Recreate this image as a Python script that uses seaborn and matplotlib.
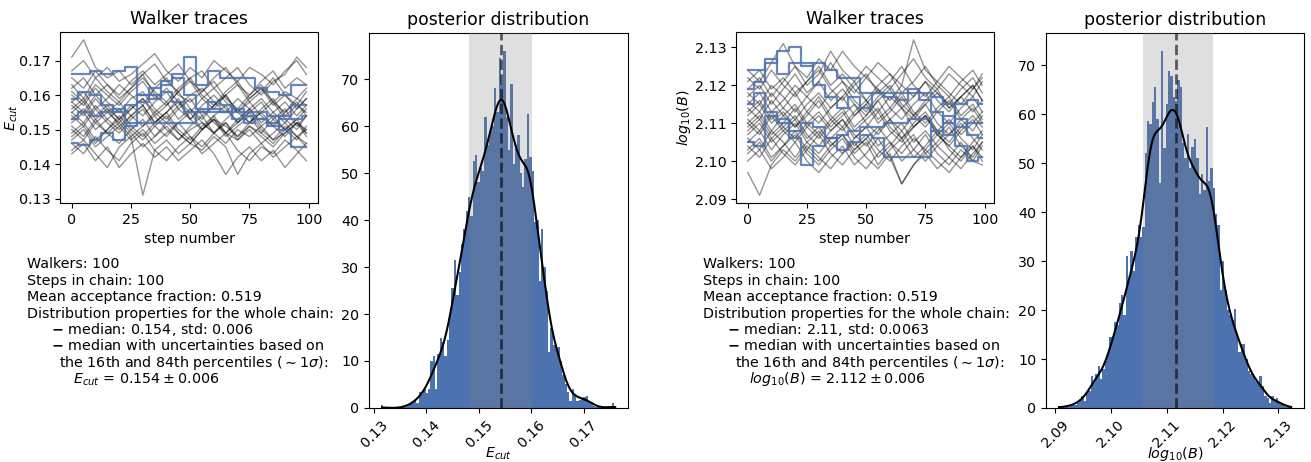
import numpy as np
import pandas as pd
import matplotlib
matplotlib.use("Agg")
import matplotlib.pyplot as plt
import seaborn as sns

trace_steps = [0, 5, 10, 15, 20, 25, 30, 35, 40, 45, 50, 55, 60, 65, 70, 75, 80, 85, 90, 95, 99]

# E_cut walkers (highlighted ones in blue)
ecut_blue = [
    [0.166, 0.166, 0.167, 0.166, 0.167, 0.168, 0.160, 0.162, 0.164, 0.166, 0.171, 0.163, 0.167, 0.165, 0.165, 0.165, 0.162, 0.161, 0.160, 0.163, 0.163],
    [0.159, 0.161, 0.160, 0.157, 0.155, 0.157, 0.160, 0.159, 0.163, 0.165, 0.160, 0.156, 0.158, 0.157, 0.153, 0.154, 0.153, 0.151, 0.154, 0.157, 0.157],
    [0.153, 0.155, 0.154, 0.155, 0.156, 0.152, 0.152, 0.152, 0.152, 0.152, 0.152, 0.155, 0.155, 0.155, 0.155, 0.155, 0.155, 0.154, 0.153, 0.153, 0.154],
    [0.146, 0.1455, 0.147, 0.149, 0.147, 0.151, 0.158, 0.160, 0.161, 0.158, 0.155, 0.155, 0.156, 0.155, 0.156, 0.152, 0.153, 0.152, 0.150, 0.145, 0.145],
]
ecut_gray = [
    [0.158, 0.161, 0.156, 0.159, 0.163, 0.160, 0.157, 0.162, 0.165, 0.160, 0.158, 0.161, 0.164, 0.159, 0.156, 0.160, 0.163, 0.158, 0.161, 0.159, 0.157],
    [0.150, 0.147, 0.152, 0.149, 0.146, 0.150, 0.153, 0.148, 0.151, 0.147, 0.150, 0.152, 0.149, 0.146, 0.150, 0.148, 0.151, 0.147, 0.149, 0.152, 0.150],
    [0.155, 0.158, 0.153, 0.156, 0.151, 0.154, 0.157, 0.152, 0.155, 0.159, 0.153, 0.150, 0.154, 0.157, 0.152, 0.155, 0.158, 0.153, 0.156, 0.151, 0.154],
    [0.171, 0.176, 0.168, 0.165, 0.167, 0.163, 0.166, 0.169, 0.164, 0.161, 0.165, 0.167, 0.162, 0.165, 0.168, 0.163, 0.160, 0.164, 0.166, 0.171, 0.168],
    [0.144, 0.147, 0.143, 0.139, 0.145, 0.148, 0.131, 0.144, 0.147, 0.143, 0.146, 0.144, 0.148, 0.145, 0.137, 0.143, 0.146, 0.142, 0.145, 0.148, 0.146],
    [0.160, 0.157, 0.162, 0.158, 0.155, 0.159, 0.161, 0.156, 0.153, 0.157, 0.160, 0.162, 0.158, 0.155, 0.159, 0.156, 0.152, 0.155, 0.158, 0.154, 0.157],
    [0.148, 0.151, 0.146, 0.150, 0.153, 0.149, 0.145, 0.148, 0.152, 0.149, 0.146, 0.150, 0.153, 0.149, 0.147, 0.151, 0.148, 0.145, 0.149, 0.152, 0.148],
    [0.163, 0.159, 0.165, 0.161, 0.158, 0.162, 0.166, 0.160, 0.157, 0.161, 0.164, 0.159, 0.156, 0.160, 0.163, 0.158, 0.161, 0.165, 0.160, 0.157, 0.161],
    [0.152, 0.155, 0.150, 0.153, 0.156, 0.151, 0.148, 0.152, 0.155, 0.150, 0.147, 0.151, 0.154, 0.149, 0.152, 0.155, 0.150, 0.147, 0.151, 0.148, 0.150],
    [0.157, 0.154, 0.159, 0.155, 0.152, 0.156, 0.159, 0.154, 0.157, 0.161, 0.156, 0.153, 0.157, 0.160, 0.155, 0.152, 0.156, 0.159, 0.154, 0.157, 0.155],
    [0.146, 0.143, 0.148, 0.144, 0.141, 0.146, 0.149, 0.144, 0.141, 0.145, 0.148, 0.143, 0.146, 0.149, 0.144, 0.141, 0.145, 0.143, 0.147, 0.144, 0.141],
    [0.167, 0.170, 0.165, 0.168, 0.164, 0.166, 0.169, 0.172, 0.167, 0.164, 0.168, 0.165, 0.170, 0.167, 0.164, 0.168, 0.166, 0.163, 0.167, 0.170, 0.166],
    [0.154, 0.151, 0.156, 0.152, 0.149, 0.153, 0.156, 0.151, 0.148, 0.152, 0.155, 0.150, 0.153, 0.151, 0.148, 0.152, 0.155, 0.151, 0.148, 0.152, 0.149],
    [0.149, 0.152, 0.147, 0.150, 0.154, 0.150, 0.147, 0.151, 0.154, 0.149, 0.146, 0.150, 0.153, 0.148, 0.151, 0.154, 0.149, 0.146, 0.150, 0.153, 0.149],
    [0.161, 0.158, 0.163, 0.160, 0.157, 0.161, 0.164, 0.159, 0.162, 0.158, 0.155, 0.159, 0.162, 0.158, 0.155, 0.159, 0.162, 0.157, 0.160, 0.156, 0.159],
    [0.143, 0.146, 0.141, 0.145, 0.139, 0.143, 0.146, 0.142, 0.145, 0.141, 0.144, 0.147, 0.143, 0.137, 0.142, 0.145, 0.141, 0.144, 0.139, 0.143, 0.146],
    [0.156, 0.159, 0.154, 0.157, 0.153, 0.156, 0.159, 0.155, 0.152, 0.156, 0.159, 0.154, 0.157, 0.160, 0.155, 0.158, 0.154, 0.151, 0.155, 0.158, 0.154],
    [0.151, 0.148, 0.153, 0.149, 0.152, 0.148, 0.151, 0.154, 0.150, 0.147, 0.151, 0.154, 0.149, 0.152, 0.148, 0.151, 0.149, 0.153, 0.150, 0.147, 0.151],
    [0.165, 0.162, 0.167, 0.163, 0.160, 0.164, 0.167, 0.163, 0.166, 0.169, 0.164, 0.161, 0.165, 0.168, 0.163, 0.160, 0.164, 0.167, 0.162, 0.165, 0.163],
    [0.153, 0.156, 0.152, 0.155, 0.158, 0.154, 0.151, 0.155, 0.158, 0.153, 0.156, 0.152, 0.149, 0.153, 0.156, 0.152, 0.155, 0.158, 0.153, 0.150, 0.154],
    [0.158, 0.155, 0.160, 0.156, 0.153, 0.157, 0.154, 0.158, 0.161, 0.156, 0.153, 0.157, 0.160, 0.156, 0.152, 0.156, 0.159, 0.155, 0.152, 0.156, 0.159],
    [0.147, 0.150, 0.145, 0.148, 0.151, 0.147, 0.150, 0.146, 0.149, 0.152, 0.148, 0.145, 0.149, 0.152, 0.147, 0.150, 0.146, 0.149, 0.152, 0.148, 0.145],
    [0.162, 0.165, 0.160, 0.163, 0.159, 0.162, 0.165, 0.161, 0.158, 0.162, 0.165, 0.160, 0.157, 0.161, 0.164, 0.159, 0.162, 0.158, 0.155, 0.159, 0.162],
    [0.155, 0.152, 0.157, 0.153, 0.150, 0.154, 0.157, 0.152, 0.155, 0.158, 0.153, 0.156, 0.152, 0.149, 0.153, 0.156, 0.151, 0.154, 0.150, 0.153, 0.156],
]

# log10(B) walkers
logb_blue = [
    [2.124, 2.124, 2.126, 2.129, 2.130, 2.125, 2.126, 2.124, 2.122, 2.122, 2.118, 2.118, 2.118, 2.118, 2.118, 2.118, 2.117, 2.115, 2.111, 2.107, 2.106],
    [2.119, 2.121, 2.127, 2.123, 2.126, 2.126, 2.120, 2.117, 2.114, 2.117, 2.114, 2.118, 2.117, 2.116, 2.119, 2.116, 2.113, 2.110, 2.115, 2.116, 2.115],
    [2.115, 2.118, 2.113, 2.111, 2.108, 2.110, 2.109, 2.106, 2.107, 2.108, 2.109, 2.109, 2.110, 2.110, 2.111, 2.111, 2.108, 2.107, 2.109, 2.110, 2.110],
    [2.105, 2.104, 2.112, 2.110, 2.106, 2.099, 2.104, 2.106, 2.103, 2.105, 2.107, 2.106, 2.101, 2.101, 2.101, 2.101, 2.108, 2.112, 2.104, 2.100, 2.101],
]
logb_gray = [
    [2.115, 2.118, 2.113, 2.116, 2.120, 2.117, 2.114, 2.118, 2.121, 2.116, 2.113, 2.117, 2.120, 2.115, 2.112, 2.116, 2.119, 2.114, 2.117, 2.120, 2.116],
    [2.106, 2.103, 2.108, 2.105, 2.101, 2.105, 2.108, 2.104, 2.107, 2.103, 2.106, 2.109, 2.105, 2.102, 2.106, 2.103, 2.107, 2.104, 2.101, 2.105, 2.108],
    [2.112, 2.115, 2.110, 2.113, 2.109, 2.112, 2.116, 2.111, 2.108, 2.112, 2.115, 2.110, 2.113, 2.117, 2.112, 2.109, 2.113, 2.116, 2.111, 2.108, 2.112],
    [2.097, 2.091, 2.099, 2.103, 2.100, 2.104, 2.101, 2.098, 2.102, 2.105, 2.101, 2.098, 2.102, 2.094, 2.099, 2.103, 2.100, 2.097, 2.101, 2.104, 2.100],
    [2.124, 2.121, 2.126, 2.131, 2.125, 2.122, 2.127, 2.124, 2.129, 2.125, 2.122, 2.126, 2.123, 2.120, 2.132, 2.124, 2.121, 2.125, 2.122, 2.119, 2.123],
    [2.109, 2.112, 2.107, 2.110, 2.114, 2.109, 2.106, 2.110, 2.113, 2.108, 2.111, 2.114, 2.109, 2.106, 2.110, 2.113, 2.108, 2.111, 2.107, 2.110, 2.113],
    [2.118, 2.115, 2.120, 2.117, 2.113, 2.117, 2.121, 2.116, 2.119, 2.115, 2.112, 2.116, 2.119, 2.114, 2.117, 2.121, 2.116, 2.113, 2.117, 2.120, 2.116],
    [2.103, 2.106, 2.101, 2.104, 2.108, 2.103, 2.100, 2.104, 2.107, 2.102, 2.105, 2.099, 2.103, 2.106, 2.101, 2.104, 2.108, 2.103, 2.100, 2.104, 2.101],
    [2.111, 2.108, 2.113, 2.109, 2.106, 2.110, 2.113, 2.109, 2.112, 2.115, 2.110, 2.107, 2.111, 2.114, 2.109, 2.112, 2.108, 2.105, 2.109, 2.112, 2.109],
    [2.121, 2.124, 2.119, 2.122, 2.118, 2.121, 2.125, 2.120, 2.123, 2.119, 2.116, 2.120, 2.123, 2.118, 2.121, 2.125, 2.120, 2.117, 2.121, 2.124, 2.120],
    [2.107, 2.110, 2.105, 2.108, 2.111, 2.106, 2.109, 2.105, 2.102, 2.106, 2.109, 2.104, 2.107, 2.110, 2.105, 2.108, 2.104, 2.107, 2.110, 2.106, 2.103],
    [2.114, 2.111, 2.116, 2.112, 2.109, 2.113, 2.117, 2.112, 2.109, 2.113, 2.116, 2.111, 2.114, 2.118, 2.113, 2.110, 2.114, 2.117, 2.112, 2.115, 2.111],
    [2.100, 2.103, 2.098, 2.101, 2.105, 2.100, 2.097, 2.101, 2.104, 2.099, 2.102, 2.106, 2.101, 2.094, 2.099, 2.102, 2.098, 2.101, 2.105, 2.100, 2.099],
    [2.117, 2.120, 2.115, 2.119, 2.123, 2.118, 2.121, 2.126, 2.121, 2.118, 2.122, 2.119, 2.116, 2.120, 2.117, 2.121, 2.118, 2.115, 2.119, 2.122, 2.118],
    [2.110, 2.107, 2.112, 2.108, 2.105, 2.109, 2.112, 2.108, 2.111, 2.107, 2.104, 2.108, 2.111, 2.106, 2.109, 2.112, 2.107, 2.104, 2.108, 2.111, 2.107],
    [2.119, 2.122, 2.117, 2.121, 2.125, 2.120, 2.123, 2.129, 2.124, 2.121, 2.125, 2.122, 2.119, 2.123, 2.127, 2.122, 2.119, 2.123, 2.120, 2.117, 2.121],
    [2.104, 2.101, 2.106, 2.102, 2.099, 2.103, 2.107, 2.102, 2.099, 2.103, 2.106, 2.101, 2.104, 2.108, 2.103, 2.100, 2.104, 2.101, 2.098, 2.102, 2.105],
    [2.113, 2.116, 2.111, 2.114, 2.118, 2.113, 2.110, 2.114, 2.117, 2.112, 2.115, 2.119, 2.114, 2.111, 2.115, 2.118, 2.113, 2.110, 2.114, 2.117, 2.113],
    [2.108, 2.111, 2.106, 2.109, 2.112, 2.107, 2.104, 2.108, 2.111, 2.106, 2.109, 2.113, 2.108, 2.105, 2.109, 2.112, 2.107, 2.110, 2.106, 2.103, 2.107],
    [2.116, 2.113, 2.118, 2.114, 2.111, 2.115, 2.118, 2.114, 2.117, 2.121, 2.116, 2.113, 2.117, 2.114, 2.111, 2.115, 2.118, 2.114, 2.117, 2.113, 2.116],
    [2.102, 2.105, 2.100, 2.104, 2.107, 2.102, 2.099, 2.103, 2.106, 2.101, 2.098, 2.102, 2.105, 2.100, 2.103, 2.107, 2.102, 2.099, 2.103, 2.100, 2.104],
    [2.122, 2.119, 2.124, 2.120, 2.117, 2.121, 2.124, 2.119, 2.116, 2.120, 2.123, 2.118, 2.121, 2.125, 2.120, 2.117, 2.121, 2.118, 2.115, 2.119, 2.122],
    [2.110, 2.113, 2.108, 2.112, 2.115, 2.110, 2.107, 2.111, 2.114, 2.109, 2.112, 2.116, 2.111, 2.108, 2.112, 2.115, 2.110, 2.107, 2.111, 2.114, 2.110],
    [2.105, 2.108, 2.103, 2.107, 2.110, 2.105, 2.102, 2.106, 2.109, 2.104, 2.107, 2.103, 2.100, 2.104, 2.107, 2.102, 2.105, 2.109, 2.104, 2.101, 2.105],
]

# posterior histograms: 100 bins over the chain range, density per bin
ecut_range = (0.1313, 0.1762)
ecut_density = [
    0.6, 0.0, 0.0, 0.0, 0.0, 0.0, 0.0, 0.0, 0.0, 0.2, 0.3, 0.5, 0.8, 1.0, 1.5, 1.0, 3.5, 3.0, 4.0, 3.2,
    4.0, 10.0, 11.0, 4.0, 11.5, 15.0, 14.0, 11.0, 14.5, 20.0, 25.5, 31.5, 24.0, 29.0, 35.0, 38.0, 42.0, 45.0, 40.8, 52.5,
    53.8, 48.0, 51.0, 50.5, 62.0, 56.0, 59.0, 60.0, 68.0, 63.0, 74.5, 69.0, 76.0, 62.0, 55.0, 69.0, 52.0, 56.0, 58.0, 50.0,
    47.0, 53.0, 62.5, 53.5, 50.5, 39.5, 40.0, 27.0, 38.0, 30.0, 25.0, 12.0, 17.0, 13.5, 13.5, 13.0, 10.0, 7.0, 5.0, 3.5,
    1.5, 4.0, 3.0, 1.5, 1.8, 2.0, 2.3, 2.6, 1.2, 0.8, 0.5, 0.3, 0.2, 0.0, 0.0, 0.0, 0.2, 0.0, 1.0, 0.2,
]
ecut_percentiles = (0.1482, 0.1542, 0.1601)  # 16th, 50th, 84th

logb_range = (2.0905, 2.1325)
logb_density = [
    0.5, 0.0, 0.2, 0.3, 0.3, 0.5, 0.8, 0.7, 1.0, 1.5, 2.4, 1.5, 3.0, 3.5, 6.6, 5.0, 7.0, 8.5, 6.0, 8.0,
    9.5, 11.0, 14.5, 14.0, 17.5, 17.0, 21.5, 23.0, 19.0, 31.0, 26.0, 32.0, 28.0, 35.0, 37.3, 35.0, 37.0, 52.0, 58.5, 58.0,
    62.4, 65.6, 59.0, 46.0, 72.9, 53.0, 62.0, 68.8, 67.8, 63.4, 62.7, 67.0, 65.5, 54.0, 51.0, 56.0, 49.0, 53.2, 55.0, 51.0,
    43.7, 47.8, 44.4, 57.3, 46.4, 49.0, 45.0, 39.6, 37.3, 24.0, 30.0, 24.0, 20.0, 19.0, 18.0, 20.2, 15.0, 11.5, 13.0, 13.0,
    10.0, 7.5, 7.0, 6.5, 5.5, 5.0, 6.5, 4.5, 2.5, 2.0, 1.0, 2.5, 1.5, 2.0, 1.0, 0.8, 0.5, 0.3, 0.2, 0.2,
]
logb_percentiles = (2.1057, 2.1117, 2.1183)

# summary text, one entry per line: (indent in px, text)
info_ecut = [
    (0, "Walkers: 100"),
    (0, "Steps in chain: 100"),
    (0, "Mean acceptance fraction: 0.519"),
    (0, "Distribution properties for the whole chain:"),
    (24, "$\\mathbf{-}$ median: 0.154, std: 0.006"),
    (24, "$\\mathbf{-}$ median with uncertainties based on"),
    (32, "the 16th and 84th percentiles ($\\sim1\\sigma$):"),
    (46, "$E_{cut}$ = $0.154 \\pm 0.006$"),
]
info_logb = [
    (0, "Walkers: 100"),
    (0, "Steps in chain: 100"),
    (0, "Mean acceptance fraction: 0.519"),
    (0, "Distribution properties for the whole chain:"),
    (24, "$\\mathbf{-}$ median: 2.11, std: 0.0063"),
    (24, "$\\mathbf{-}$ median with uncertainties based on"),
    (32, "the 16th and 84th percentiles ($\\sim1\\sigma$):"),
    (46, "$log_{10}(B)$ = $2.112 \\pm 0.006$"),
]

plt.rcParams["font.size"] = 10.3
blue = sns.color_palette("deep")[0]
W, H = 1311, 462


def walkers_frame(walkers):
    rows = []
    for w, vals in enumerate(walkers):
        for s, v in zip(trace_steps, vals):
            rows.append((w, s, v))
    return pd.DataFrame(rows, columns=["walker", "step", "value"])


def draw_traces(ax, gray, highlighted, label, label_x):
    sns.lineplot(data=walkers_frame(gray), x="step", y="value", units="walker",
                 estimator=None, color="k", alpha=0.42, lw=1, ax=ax, legend=False)
    sns.lineplot(data=walkers_frame(highlighted), x="step", y="value", units="walker",
                 estimator=None, color=blue, alpha=0.85, lw=1.6, ax=ax, legend=False,
                 drawstyle="steps-mid")
    ax.set_title("Walker traces", fontsize=12.4)
    ax.set_xlabel("step number")
    ax.set_ylabel(label)
    ax.yaxis.set_label_coords(label_x, 0.5)
    ax.set_xticks([0, 25, 50, 75, 100])


def draw_posterior(ax, rng, dens, pct, label, bw):
    nbins = len(dens)
    width = (rng[1] - rng[0]) / nbins
    df = pd.DataFrame({"x": [rng[0] + (i + 0.5) * width for i in range(nbins)],
                       "w": dens})
    sns.histplot(data=df, x="x", weights="w", bins=nbins, binrange=rng,
                 color=blue, alpha=1, lw=0, ax=ax)
    ax.axvspan(pct[0], pct[2], color="gray", alpha=0.25, lw=0, zorder=3)
    sns.kdeplot(data=df, x="x", weights="w", bw_adjust=bw, cut=0, color="k",
                lw=1.5, ax=ax, zorder=5)
    ax.axvline(pct[1], color="k", ls="--", lw=2, alpha=0.6, zorder=4)
    ax.set_title("posterior distribution", fontsize=12.4)
    ax.set_ylabel("")
    ax.set_xlabel(label)
    ax.xaxis.set_label_coords(0.5, -0.10)
    ax.tick_params(axis="x", rotation=45)


def draw_info(fig, lines, x0):
    for i, (indent, txt) in enumerate(lines):
        baseline = 268.5 + 16.4 * i
        fig.text((x0 + indent) / W, 1 - baseline / H, txt,
                 ha="left", va="baseline", fontsize=10.3)


fig = plt.figure(figsize=(13.11, 4.62), dpi=100)
ax1 = fig.add_axes([0.0458, 0.5606, 0.1968, 0.370])
ax2 = fig.add_axes([0.2815, 0.1169, 0.1976, 0.8117])
ax3 = fig.add_axes([0.5614, 0.5606, 0.1968, 0.370])
ax4 = fig.add_axes([0.7979, 0.1169, 0.1968, 0.8117])

draw_traces(ax1, ecut_gray, ecut_blue, "$E_{cut}$", -0.155)
draw_posterior(ax2, ecut_range, ecut_density, ecut_percentiles, "$E_{cut}$", 0.4)
draw_traces(ax3, logb_gray, logb_blue, "$log_{10}(B)$", -0.167)
draw_posterior(ax4, logb_range, logb_density, logb_percentiles, "$log_{10}(B)$", 0.35)

draw_info(fig, info_ecut, 27)
draw_info(fig, info_logb, 703)

fig.savefig("out.png", dpi=100)
